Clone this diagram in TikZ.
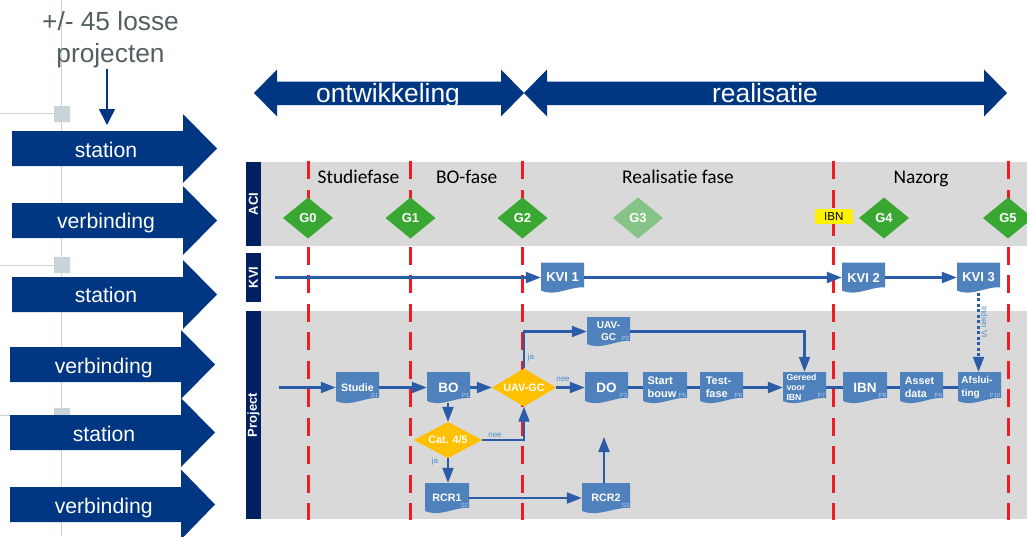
\documentclass[tikz,border=0pt]{standalone}
\usepackage{fontspec}
\setmainfont{Liberation Sans}
\newfontfamily\calfont[Ligatures=NoCommon]{Carlito}
\usetikzlibrary{arrows.meta}
\definecolor{navy}{HTML}{003682}
\definecolor{barblue}{HTML}{002060}
\definecolor{flow}{HTML}{2A5CA8}
\definecolor{docblue}{HTML}{4F81BD}
\definecolor{bandgrey}{HTML}{D9D9D9}
\definecolor{railgrey}{HTML}{C9D4D9}
\definecolor{gatered}{HTML}{EE1C25}
\definecolor{gategreen}{HTML}{38A832}
\definecolor{gatepale}{HTML}{85C486}
\definecolor{decide}{HTML}{FFC000}
\definecolor{subtxt}{HTML}{B9D0EA}
\definecolor{notetxt}{HTML}{4F8FCB}
\definecolor{greytxt}{HTML}{555F61}
\tikzset{
  x=1pt,y=-1pt,
  bigtxt/.style={text=white,font=\fontsize{21.2}{24}\selectfont,inner sep=0pt,anchor=base},
  toptxt/.style={text=white,font=\fontsize{26.4}{30}\selectfont,inner sep=0pt},
  phase/.style={font=\calfont\fontsize{19.4}{22}\selectfont,inner sep=0pt,anchor=base},
  barlabel/.style={text=white,font=\bfseries\fontsize{13}{15}\selectfont,rotate=90,inner sep=0pt},
  gatetxt/.style={text=white,font=\bfseries\fontsize{13}{15}\selectfont,inner sep=0pt},
  doctxt/.style={text=white,font=\bfseries\fontsize{13}{15}\selectfont,inner sep=0pt,align=center},
  subs/.style={text=subtxt,font=\fontsize{6}{7}\selectfont,inner sep=0pt,anchor=east},
  note/.style={text=notetxt,font=\fontsize{8}{9}\selectfont,inner sep=0pt},
  flowline/.style={draw=flow,line width=2.1pt},
  flowarrow/.style={flowline,-{Triangle[length=15pt,width=11pt]}},
  redline/.style={draw=gatered,line width=3pt,dash pattern=on 18pt off 10.5pt},
}
\newcommand{\bigarrow}[6]{% x0,xhead,xtip,ybodytop,ybodybot,half head
  \pgfmathsetmacro{\ymid}{(#4+#5)/2}%
  \fill[navy] (#1,#4) -- (#2,#4) -- (#2,\ymid-#6) -- (#3,\ymid) -- (#2,\ymid+#6) -- (#2,#5) -- (#1,#5) -- cycle;
}
\newcommand{\dblarrow}[6]{% name,xl,xr,textx,baseline,text
  \fill[navy] (#2,93) -- (#2+23,69.5) -- (#2+23,81.5) -- (#3-23,81.5) -- (#3-23,69.5) -- (#3,93) -- (#3-23,116.5) -- (#3-23,105) -- (#2+23,105) -- (#2+23,116.5) -- cycle;
  \node[toptxt,anchor=base] (#1) at (#4,#5) {#6};
}
\newcommand{\docbox}[8][]{% opts,name,x0,y0,x1,y1,text,sub
  \pgfmathsetmacro{\dw}{#5-#3}\pgfmathsetmacro{\dh}{#6-#4}%
  \fill[docblue] (#3,#4) -- (#5,#4) -- (#5,#6-5) .. controls (#5-0.22*\dw,#6-6.5) and (#3+0.45*\dw,#6+1) .. (#3+0.2*\dw,#6) .. controls (#3+0.12*\dw,#6) and (#3+0.05*\dw,#6-1) .. (#3,#6-2) -- cycle;
  \node[minimum width=\dw pt,minimum height=\dh pt,inner sep=0pt] (#2) at ({(#3+#5)/2},{(#4+#6)/2}) {};
  \node[doctxt,#1] (#2t) at (#2) {#7};
  \node[subs] (#2s) at (#5-0.5,#6-8) {#8};
}
\newcommand{\gate}[5][gategreen]{% colour,name,x,y,text
  \fill[#1] (#3-25,#4) -- (#3,#4-20.5) -- (#3+25,#4) -- (#3,#4+20.5) -- cycle;
  \node[gatetxt] (#2) at (#3,#4) {#5};
}
\newcommand{\decision}[7]{% name,cx,cy,hw,hh,text,fontsize
  \fill[decide] (#2-#4,#3) -- (#2,#3-#5) -- (#2+#4,#3) -- (#2,#3+#5) -- cycle;
  \node[text=white,font=\bfseries\fontsize{#7}{#7}\selectfont,inner sep=0pt,minimum width=2*#4 pt,minimum height=2*#5 pt] (#1) at (#2,#3) {#6};
}
\begin{document}
\begin{tikzpicture}
\useasboundingbox (0,0) rectangle (1027,536);
% background rail
\draw[railgrey,line width=1pt] (61.5,0) -- (61.5,536);
\draw[railgrey,line width=1pt] (0,113.5) -- (62,113.5) (0,265) -- (62,265) (0,415.5) -- (62,415.5);
\fill[railgrey] (54,106) rectangle (70,122) (54,257) rectangle (70,273) (54,408) rectangle (70,424);
% header text and arrow
\node[text=greytxt,font=\fontsize{26.3}{32}\selectfont,align=center,inner sep=0pt] (intro) at (110.5,39.5) {+/- 45 losse\\projecten};
\coordinate (introend) at (107,125);
\coordinate (introstart) at (107,69);
\draw[navy,line width=1.6pt,-{Triangle[length=16pt,width=16pt]}] (introstart) -- (introend);
% big arrows
\bigarrow{12}{183}{217}{131}{166}{34.5}
\node[bigtxt] (st1) at (106,157) {station};
\bigarrow{12}{183}{217}{203}{238}{34.5}
\node[bigtxt] (vb1) at (106,228) {verbinding};
\bigarrow{12}{183}{217}{277}{312}{34.5}
\node[bigtxt] (st2) at (106,302.5) {station};
\bigarrow{10}{181}{215}{347}{382}{34.5}
\node[bigtxt] (vb2) at (103.7,373) {verbinding};
\bigarrow{10}{181}{215}{415}{450}{34.5}
\node[bigtxt] (st3) at (104,441) {station};
\bigarrow{10}{181}{215}{487}{522}{35}
\node[bigtxt] (vb3) at (103.7,513) {verbinding};
% top arrows
\dblarrow{ont}{254}{524}{388}{102.5}{ontwikkeling}
\dblarrow{rea}{524}{1007}{765}{102.5}{realisatie}
% bands
\fill[bandgrey] (246,162) rectangle (1027,246);
\fill[bandgrey] (246,311) rectangle (1027,519);
\fill[barblue] (246,162) rectangle (261,246);
\fill[barblue] (246,253) rectangle (261,302);
\fill[barblue] (246,311) rectangle (261,519);
\node[barlabel] (laci) at (253.5,204) {ACI};
\node[barlabel] (lkvi) at (253.5,277.5) {KVI};
\node[barlabel] (lprj) at (253.5,415) {Project};
% phases
\node[phase] (p1) at (358.5,183) {Studiefase};
\node[phase] (p2) at (466.7,183) {BO-fase};
\node[phase] (p3) at (678,183) {Realisatie fase};
\node[phase] (p4) at (921,183) {Nazorg};
% gate lines
\coordinate (r1t) at (308,161);\coordinate (r1b) at (308,520);
\coordinate (r2t) at (410.5,161);\coordinate (r2b) at (410.5,520);
\coordinate (r3t) at (522.5,161);\coordinate (r3b) at (522.5,520);
\coordinate (r4t) at (833,161);\coordinate (r4b) at (833,520);
\coordinate (r5t) at (1008,161);\coordinate (r5b) at (1008,520);
\foreach \n in {1,...,5} \draw[redline] (r\n t) -- (r\n b);
% documents
\docbox{kvia}{541}{262.5}{584}{292.5}{KVI 1}{}
\docbox{kvib}{842}{262.5}{885}{292.5}{KVI 2}{}
\docbox{kvic}{957}{262.5}{1000}{292.5}{KVI 3}{}
\docbox[font=\bfseries\fontsize{10.7}{13}\selectfont]{studie}{336}{372}{379}{403}{Studie}{S1}
\docbox[font=\bfseries\fontsize{13.5}{16}\selectfont]{bo}{427}{372}{470}{403}{BO}{P1}
\docbox[font=\bfseries\fontsize{13.5}{16}\selectfont]{do}{585}{372}{628}{403}{DO}{P3}
\docbox[font=\bfseries\fontsize{10}{12}\selectfont]{uav}{587}{317}{630}{346}{UAV-\\GC}{P2}
\docbox[font=\bfseries\fontsize{11}{13.3}\selectfont,align=left,xshift=-3pt]{start}{643}{372}{687}{403}{Start\\bouw}{P5}
\docbox[font=\bfseries\fontsize{11}{13.3}\selectfont,align=left,xshift=-3pt]{test}{700}{372}{743}{403}{Test-\\fase}{P6}
\docbox[font=\fontsize{8.7}{10.3}\selectfont\bfseries,align=left,xshift=-3pt]{gereed}{783}{372}{826}{403}{Gereed\\voor\\IBN}{P7}
\docbox[font=\bfseries\fontsize{13.5}{16}\selectfont]{ibn}{843}{372}{887}{403}{IBN}{P8}
\docbox[font=\bfseries\fontsize{10.7}{13}\selectfont,align=left,xshift=-2pt]{asset}{900}{372}{943}{403}{Asset\\data}{P9}
\docbox[font=\bfseries\fontsize{10}{12.5}\selectfont,align=left,xshift=-2.5pt]{afsl}{958}{372}{1001}{403}{Afslui-\\ting}{P10}
\docbox[font=\bfseries\fontsize{10.7}{13}\selectfont]{rcra}{425}{483}{469}{513}{RCR1}{S2}
\docbox[font=\bfseries\fontsize{10.7}{13}\selectfont]{rcrb}{582}{483}{630}{513}{RCR2}{S3}
\decision{ugc}{524}{387.5}{32}{19}{UAV-GC}{10.8}
\decision{cat}{448}{440}{34}{18}{Cat. 4/5}{10.7}
% connectors
\coordinate (kstart) at (275,277.5);
\coordinate (pstart) at (279,387.5);
\coordinate (rfree) at (604,437);
\draw[flowarrow] (kstart) -- (kvia.west);
\draw[flowarrow] (kvia.east) -- (kvib.west);
\draw[flowarrow] (kvib.east) -- (kvic.west);
\draw[flowarrow] (pstart) -- (studie.west);
\draw[flowarrow] (studie.east) -- (bo.west);
\draw[flowarrow] (bo.east) -- (ugc.west);
\draw[flowarrow] (ugc.east) -- (do.west);
\draw[flowline] (do.east) -- (start.west);
\draw[flowline] (start.east) -- (test.west);
\draw[flowarrow] (test.east) -- (gereed.west);
\draw[flowline] (gereed.east) -- (ibn.west);
\draw[flowline] (ibn.east) -- (asset.west);
\draw[flowline] (asset.east) -- (afsl.west);
\draw[flowarrow] (ugc.north) |- (uav.west);
\draw[flowarrow] (uav.east) -| (gereed.north);
\draw[flowarrow] (bo.south -| cat.north) -- (cat.north);
\draw[flowarrow] (cat.south) -- (rcra.north -| cat.south);
\draw[flowarrow] (cat.east) -| (ugc.south);
\draw[flowarrow] (rcra.east) -- (rcrb.west);
\draw[flowarrow] (rcrb.north -| rfree) -- (rfree);
\draw[flowarrow,dash pattern=on 3pt off 2.5pt] (kvic.south) -- (afsl.north -| kvic.south);
% connector labels
\node[note] (lja1) at (531,357) {ja};
\node[note] (lnee1) at (563,379.5) {nee};
\node[note] (lnee2) at (495,435) {nee};
\node[note] (lja2) at (435,461) {ja};
\node[note,rotate=-90] (lvi) at (984.5,322) {Indien VI};
% gates
\gate{g0}{308}{218}{G0}
\gate{g1}{410.5}{218}{G1}
\gate{g2}{522.5}{218}{G2}
\gate[gatepale]{g3}{638}{218}{G3}
\gate{g4}{884}{218}{G4}
\gate{g5}{1008}{218}{G5}
\fill[yellow] (815,209) rectangle (852.5,224);
\node[font=\fontsize{11.6}{14}\selectfont,inner sep=0pt] (ibnflag) at (833.7,216.5) {IBN};
\end{tikzpicture}
\end{document}
